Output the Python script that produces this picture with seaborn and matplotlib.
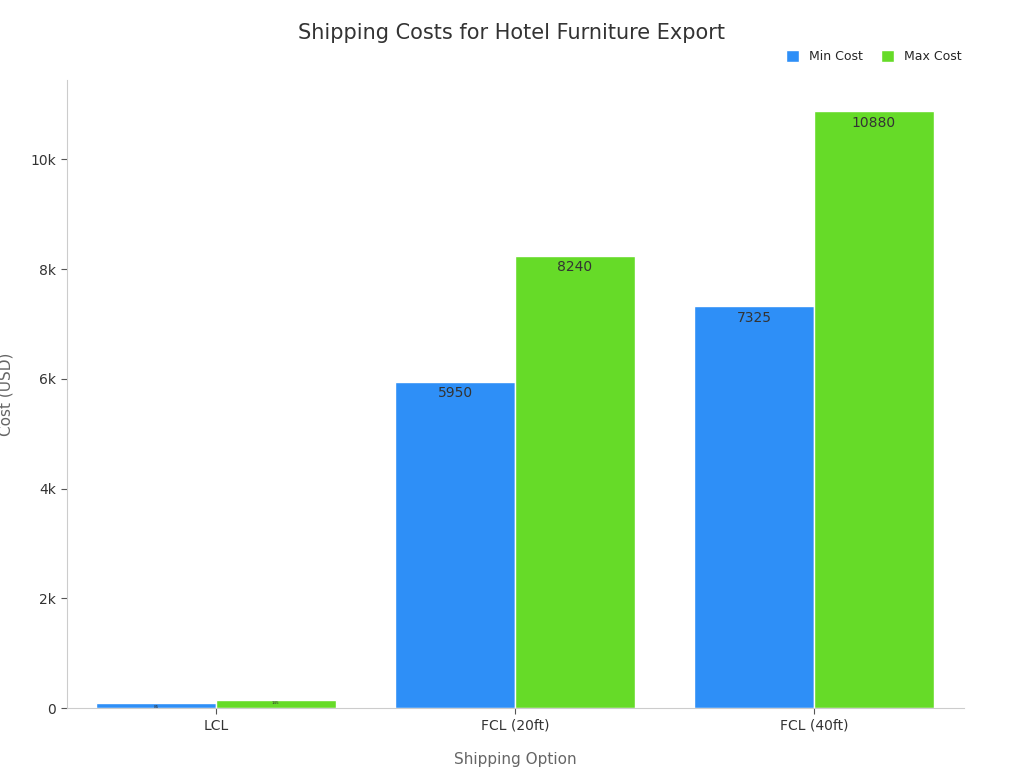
import matplotlib
matplotlib.use("Agg")
import matplotlib.pyplot as plt
import seaborn as sns
import pandas as pd
from matplotlib.ticker import FuncFormatter

categories = ["LCL", "FCL (20ft)", "FCL (40ft)"]
min_cost = [85, 5950, 7325]
max_cost = [145, 8240, 10880]
series = ["Min Cost", "Max Cost"]

df = pd.DataFrame({
    "Shipping Option": categories * 2,
    "Cost": min_cost + max_cost,
    "Series": [series[0]] * 3 + [series[1]] * 3,
})

sns.set_style("white")
fig = plt.figure(figsize=(10.24, 7.68), dpi=100)
ax = fig.add_axes([0.065, 0.078, 0.876, 0.818])
sns.barplot(data=df, x="Shipping Option", y="Cost", hue="Series",
            palette=["#2e8ff7", "#66db28"], width=0.8, edgecolor="white",
            linewidth=1, ax=ax, saturation=1)
for i, c in enumerate(ax.containers):
    vals = [min_cost, max_cost][i]
    for bar, v in zip(c, vals):
        fs = 10 if v > 1000 else 3
        ax.text(bar.get_x() + bar.get_width() / 2, bar.get_height() - (80 if v > 1000 else 20),
                str(v), ha="center", va="top", fontsize=fs, color="#333333")
ax.set_ylim(0, 11450)
ax.set_xlim(-0.5, 2.5)
ax.yaxis.set_major_formatter(FuncFormatter(lambda v, p: "0" if v == 0 else f"{int(v/1000)}k"))
ax.set_yticks([0, 2000, 4000, 6000, 8000, 10000])
ax.tick_params(axis="y", left=True, length=4, color="#555555", labelsize=10, labelcolor="#333333")
ax.tick_params(axis="x", bottom=True, length=4, color="#555555", labelsize=10, labelcolor="#333333")
for s in ["top", "right"]:
    ax.spines[s].set_visible(False)
for s in ["left", "bottom"]:
    ax.spines[s].set_color("#cccccc")
ax.set_xlabel("Shipping Option", fontsize=11, color="#666666", labelpad=14)
ax.set_ylabel("Cost (USD)", fontsize=11, color="#666666", labelpad=12)
fig.suptitle("Shipping Costs for Hotel Furniture Export", fontsize=15, color="#333333", y=0.97)
ax.legend(loc="upper right", bbox_to_anchor=(1.01, 1.065), ncol=2, frameon=False,
          fontsize=9, handlelength=1, handleheight=1, columnspacing=1.5)
fig.savefig("out.png", dpi=100)
